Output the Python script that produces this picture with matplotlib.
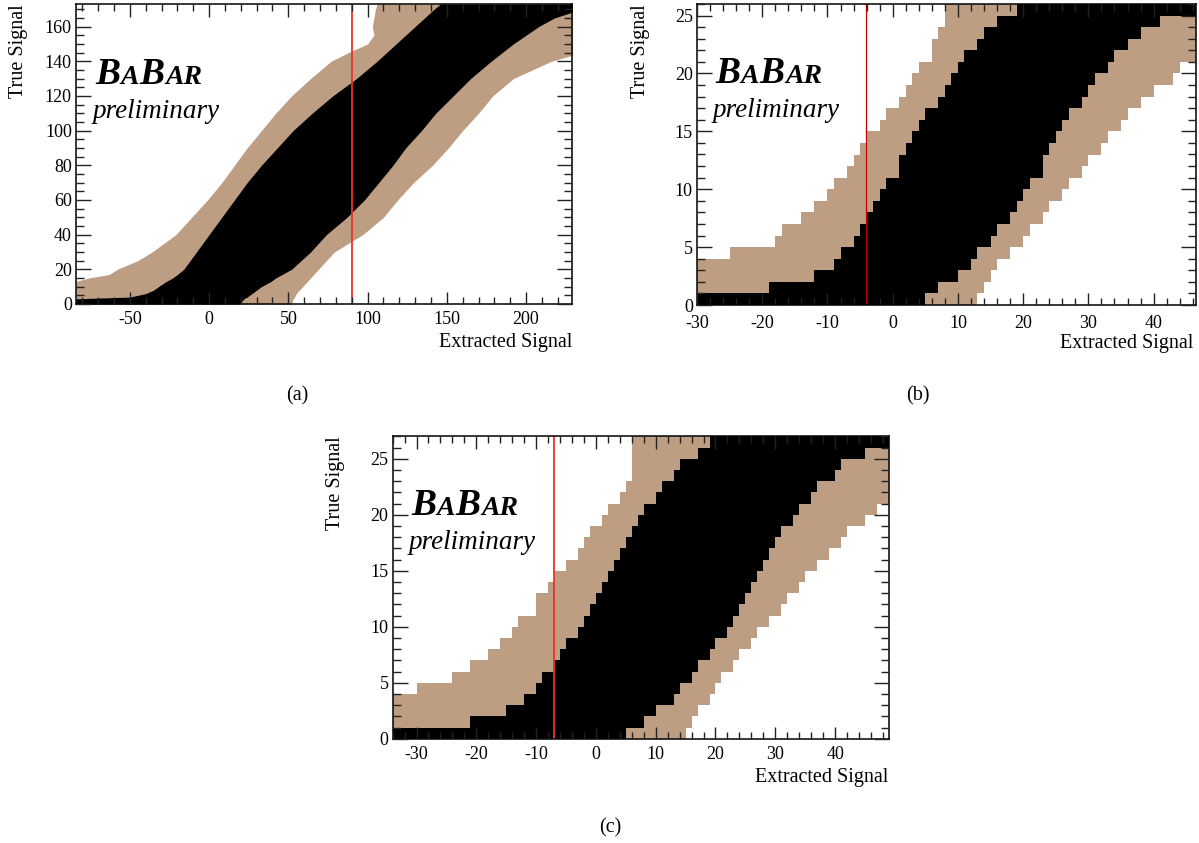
import matplotlib
matplotlib.use('Agg')
import matplotlib.pyplot as plt
import numpy as np
from matplotlib.ticker import MultipleLocator
from matplotlib.transforms import offset_copy

plt.rcParams['font.family'] = ['Liberation Serif', 'DejaVu Serif']
plt.rcParams['font.size'] = 13
plt.rcParams['axes.unicode_minus'] = False

TAN = '#bd9e83'

# ---- panel (a): belt edges read at a set of true-signal values ----
a_y = [0, 3, 4, 6, 8, 10, 13, 15, 17, 20, 25, 30, 40, 50, 60, 70, 80, 90,
       100, 110, 120, 130, 140, 145, 150, 155, 160, 165, 170, 173]
a_out_lo = [-84, -84, -84, -84, -84, -84, -84, -76, -63, -58, -45, -36, -21, -11, -1, 8, 16, 24,
            33, 42, 52, 64, 77, 88, 100, 104, 103, 104, 105, 106]
a_in_lo = [-84, -84, -50, -40, -35, -32, -27, -23, -20, -16, -12, -8, 0, 8, 16, 24, 33, 43,
           53, 65, 78, 93, 106, 112, 118, 124, 130, 136, 142, 146]
a_in_hi = [19, 22, 24, 27, 30, 33, 39, 42, 46, 52, 58, 64, 74, 87, 98, 107, 116, 124,
           134, 143, 154, 165, 178, 185, 192, 200, 208, 218, 235, 235]
a_out_hi = [52, 53, 54, 55, 57, 59, 62, 64, 66, 69, 74, 79, 97, 110, 119, 129, 141, 151,
            160, 170, 179, 192, 216, 235, 235, 235, 235, 235, 235, 235]
a_measured = 90

# ---- panel (b): one row per unit of true signal (row lower edges 0..25) ----
b_rows = list(range(26))
b_out_lo = [-30, -30, -30, -30, -25, -18, -17, -14, -12, -10, -9, -7, -6, -5, -4, -2, -1, 1, 2, 3,
            4, 6, 6, 7, 8, 8]
b_in_lo = [-30, -19, -12, -9, -8, -6, -5, -4, -3, -2, -1, 1, 1, 2, 3, 4, 5, 7, 8, 9,
           10, 11, 13, 14, 16, 19]
b_in_hi = [5, 7, 10, 12, 13, 15, 16, 18, 19, 20, 21, 23, 23, 24, 25, 26, 27, 29, 30, 31,
           33, 34, 36, 38, 41, 47]
b_out_hi = [13, 14, 15, 16, 18, 20, 21, 23, 24, 26, 27, 29, 30, 32, 33, 35, 36, 38, 40, 43,
            44, 47, 47, 47, 47, 47]
b_measured = -4.15

# ---- panel (c) ----
c_rows = list(range(27))
c_out_lo = [-34, -34, -34, -34, -30, -24, -21, -18, -16, -14, -13, -10, -10, -8, -7, -5, -3, -2,
            -1, 1, 2, 4, 5, 6, 6, 6, 6]
c_in_lo = [-34, -21, -15, -12, -10, -9, -7, -6, -5, -3, -2, -1, 0, 1, 2, 3, 4, 5,
           6, 7, 8, 10, 11, 13, 14, 17, 19]
c_in_hi = [5, 8, 10, 13, 14, 16, 17, 19, 20, 22, 23, 24, 25, 26, 27, 28, 29, 30,
           31, 33, 34, 36, 37, 40, 41, 45, 50]
c_out_hi = [15, 16, 17, 19, 20, 21, 23, 24, 26, 27, 29, 31, 32, 34, 35, 37, 39, 41,
            42, 45, 47, 50, 50, 50, 50, 50, 50]
c_measured = -7.07

W, H = 1199, 843
fig = plt.figure(figsize=(W / 100, H / 100), dpi=100)


def px_axes(left, top, right, bottom):
    return fig.add_axes([left / W, 1 - bottom / H, (right - left) / W, (bottom - top) / H])


def style(ax, xmaj, xmin, ymaj, ymin, xpad=5):
    ax.xaxis.set_major_locator(MultipleLocator(xmaj))
    ax.xaxis.set_minor_locator(MultipleLocator(xmin))
    ax.yaxis.set_major_locator(MultipleLocator(ymaj))
    ax.yaxis.set_minor_locator(MultipleLocator(ymin))
    ax.tick_params(which='both', direction='in', top=True, right=True, width=1, colors='#222222',
                   labelcolor='black')
    ax.xaxis.set_tick_params(which='major', length=9, pad=xpad)
    ax.xaxis.set_tick_params(which='minor', length=5)
    ax.yaxis.set_tick_params(which='major', length=11, pad=3)
    ax.yaxis.set_tick_params(which='minor', length=6)
    for s in ax.spines.values():
        s.set_linewidth(1.1)
    ax.set_axisbelow(False)


def babar(ax, dx, dy):
    # logo letters laid side by side, each placed after the previous one's extent
    r = fig.canvas.get_renderer()
    x = dx
    for s, size in [('B', 27), ('A', 20), ('B', 27), ('AR', 20)]:
        tr = offset_copy(ax.transAxes, fig=fig, x=x, y=-dy, units='dots')
        t = ax.text(0, 1, s, transform=tr, fontsize=size, fontweight='bold',
                    fontstyle='italic', ha='left', va='baseline')
        x += t.get_window_extent(r).width + 0.5
    tr = offset_copy(ax.transAxes, fig=fig, x=dx - 2, y=-dy - 34, units='dots')
    ax.text(0, 1, 'preliminary', transform=tr, fontsize=19.5, fontstyle='italic',
            ha='left', va='baseline')


def labels(xl, xr, top, bottom):
    fig.text((xl - 57) / W, 1 - top / H, 'True Signal', rotation=90, ha='center', va='top',
             fontsize=14.5)
    fig.text(xr / W, 1 - (bottom + 43) / H, 'Extracted Signal', ha='right', va='baseline',
             fontsize=14.5)


# panel (a)
ax = px_axes(76, 4, 572, 304)
ax.fill_betweenx(a_y, a_out_lo, a_out_hi, color=TAN, lw=0)
ax.fill_betweenx(a_y, a_in_lo, a_in_hi, color='black', lw=0)
ax.axvline(a_measured, color='#e8342c', lw=1.3)
ax.set_xlim(-84, 229)
ax.set_ylim(0, 173)
style(ax, 50, 10, 20, 5)
babar(ax, 19, 80)
labels(76, 572, 4, 304)
fig.text(297 / W, 1 - 396 / H, '(a)', ha='center', va='center', fontsize=14.5)

# panel (b)
ax = px_axes(697, 4, 1196, 305)
ax.barh(b_rows, np.subtract(b_out_hi, b_out_lo), left=b_out_lo, height=1, align='edge',
        color=TAN, lw=0, antialiased=False)
ax.barh(b_rows, np.subtract(b_in_hi, b_in_lo), left=b_in_lo, height=1, align='edge',
        color='black', lw=0, antialiased=False)
ax.axvline(b_measured, color='#c80000', lw=0.9)
ax.set_xlim(-30, 46.5)
ax.set_ylim(0, 26)
style(ax, 10, 2, 5, 1, xpad=7)  # a bit more room so "-30" clears the y "0"
babar(ax, 18, 79)
labels(697, 1193, 4, 305)
fig.text(918 / W, 1 - 396 / H, '(b)', ha='center', va='center', fontsize=14.5)

# panel (c)
ax = px_axes(392.6, 436.3, 888.9, 738.7)
ax.barh(c_rows, np.subtract(c_out_hi, c_out_lo), left=c_out_lo, height=1, align='edge',
        color=TAN, lw=0, antialiased=False)
ax.barh(c_rows, np.subtract(c_in_hi, c_in_lo), left=c_in_lo, height=1, align='edge',
        color='black', lw=0, antialiased=False)
ax.axvline(c_measured, color='#e8342c', lw=1.3)
ax.set_xlim(-34, 49)
ax.set_ylim(0, 27)
style(ax, 10, 2, 5, 1)
babar(ax, 18.4, 79)
labels(392.6, 888, 436.3, 738.7)
fig.text(610 / W, 1 - 828 / H, '(c)', ha='center', va='center', fontsize=14.5)

fig.savefig('out.png', dpi=100)
